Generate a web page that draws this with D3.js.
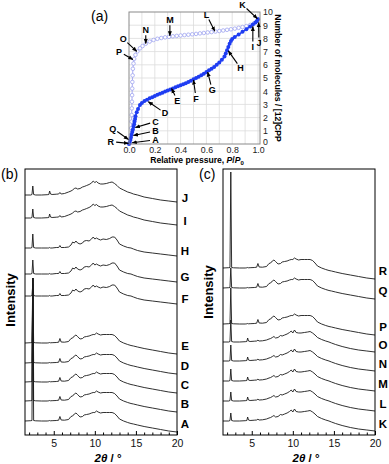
<!DOCTYPE html>
<html>
<head>
<meta charset="utf-8">
<script src="https://cdn.jsdelivr.net/npm/d3@7"></script>
<style>
body { margin: 0; background: #fff; }
text { font-family: "Liberation Sans", Arial, sans-serif; }
</style>
</head>
<body>
<div id="canvas"></div>
<script>
// ---- (a) isotherm data: relative pressure P/P0 vs molecules per [12]CPP
var adsP = [0, 0.005, 0.01, 0.015, 0.02, 0.025, 0.03, 0.035, 0.04, 0.043, 0.047, 0.05, 0.06, 0.07, 0.085, 0.1, 0.12, 0.14, 0.16, 0.18, 0.2, 0.22, 0.24, 0.26, 0.28, 0.3, 0.32, 0.34, 0.36, 0.38, 0.4, 0.42, 0.44, 0.46, 0.48, 0.5, 0.52, 0.54, 0.56, 0.58, 0.6, 0.62, 0.64, 0.66, 0.68, 0.7, 0.72, 0.74, 0.75, 0.76, 0.77, 0.78, 0.79, 0.8, 0.82, 0.85, 0.88, 0.91, 0.94, 0.96, 0.98, 0.99, 1.0];
var adsN = [0, 0.1, 0.3, 0.5, 0.7, 0.9, 1.1, 1.3, 1.5, 1.7, 1.9, 2.1, 2.4, 2.65, 2.95, 3.1, 3.25, 3.36, 3.46, 3.55, 3.64, 3.73, 3.81, 3.89, 3.97, 4.05, 4.13, 4.21, 4.29, 4.37, 4.45, 4.53, 4.61, 4.7, 4.8, 4.9, 5.0, 5.1, 5.2, 5.32, 5.45, 5.58, 5.7, 5.84, 6.0, 6.18, 6.38, 6.62, 6.85, 7.1, 7.35, 7.6, 7.8, 7.95, 8.1, 8.3, 8.5, 8.7, 8.9, 9.05, 9.2, 9.3, 9.45];
var desP = [1.0, 0.97, 0.94, 0.91, 0.88, 0.85, 0.82, 0.79, 0.76, 0.73, 0.7, 0.67, 0.64, 0.61, 0.58, 0.55, 0.52, 0.49, 0.46, 0.43, 0.4, 0.37, 0.34, 0.31, 0.28, 0.25, 0.22, 0.19, 0.16, 0.13, 0.105, 0.085, 0.065, 0.05, 0.04, 0.035, 0.03, 0.028, 0.026, 0.025, 0.024, 0.023, 0.022, 0.021, 0.02, 0.018, 0.015, 0.01, 0.005];
var desN = [9.45, 9.15, 9.02, 8.93, 8.86, 8.8, 8.74, 8.69, 8.65, 8.6, 8.56, 8.52, 8.48, 8.45, 8.41, 8.38, 8.34, 8.31, 8.28, 8.25, 8.22, 8.19, 8.16, 8.12, 8.08, 8.03, 7.97, 7.88, 7.76, 7.6, 7.42, 7.25, 7.02, 6.75, 6.45, 6.1, 5.7, 5.2, 4.7, 4.2, 3.7, 3.2, 2.7, 2.2, 1.7, 1.2, 0.7, 0.3, 0.05];

// point labels on the isotherm (label centre, arrow tip) in data units
var isoNames = ["A","B","C","D","E","F","G","H","I","J","K","L","M","N","O","P","Q","R"];
var isoLabelAt = [[0.205,0.32],[0.205,1.0],[0.205,1.7],[0.28,2.33],[0.375,3.3],[0.52,3.45],[0.645,4.1],[0.865,5.75],[0.96,7.35],[1.007,7.65],[0.88,10.55],[0.6,9.8],[0.317,9.42],[0.13,8.66],[-0.044,7.97],[-0.077,7.0],[-0.126,1.19],[-0.142,0.18]];
var isoArrowTip = [[0.025,0.1],[0.035,0.65],[0.05,1.25],[0.15,3.2],[0.33,4.2],[0.5,4.85],[0.61,5.45],[0.77,7.05],[0.96,8.9],[1.005,9.2],[0.995,9.5],[0.665,8.55],[0.317,8.2],[0.13,7.62],[0.06,7.02],[0.03,6.4],[-0.005,0.35],[-0.005,0.05]];

var pressureTicks = [0, 0.2, 0.4, 0.6, 0.8, 1.0];
var moleculeTicks = [0, 1, 2, 3, 4, 5, 6, 7, 8, 9, 10];

// ---- (b), (c) XRD patterns
var twoTheta = [1.5, 2.2, 2.35, 2.45, 2.55, 2.8, 3.5, 4.2, 4.4, 4.5, 4.6, 4.8, 5.3, 5.6, 5.75, 5.9, 6.3, 6.8, 7.1, 7.3, 7.5, 7.7, 7.9, 8.2, 8.5, 8.7, 9.0, 9.3, 9.6, 9.8, 10.0, 10.2, 10.4, 10.7, 11.0, 11.4, 11.8, 12.1, 12.4, 12.7, 13.0, 13.5, 14.0, 14.4, 14.7, 15.2, 16, 17, 18, 19, 20];
var peakAngle = 2.45;

var profileA = [0, 0.3, 0.5, 0, 0.5, 0.2, 0, 0, 0.2, 0.5,
  0.2, 0.3, 0.5, 0.8, 4.5, 1, 0.8, 1.5, 4.5, 5,
  7, 8, 6.5, 4, 4.5, 6, 6.5, 7, 8, 8.5,
  8.5, 10, 9, 8, 8.5, 8.5, 8.5, 8.5, 7.5, 5,
  2, 0, -1.5, -2.5, -3, -4, -5.5, -7, -8.5, -10, -11];
var profileH = [0, 0, 0.5, 0, 0.5, 0, 0, 0, 0, 0.5,
  0, 0, 0.5, 0.5, 2.5, 0.5, 0.5, 1, 3, 6,
  5, 7, 5, 4, 5, 7, 7.5, 7, 9, 11,
  9, 10, 9, 8, 9, 8.5, 9.5, 11, 11, 8,
  4, 2, 0.5, 0, -1, -2.5, -4, -5, -6, -7, -8];
var profileJ = [0, 0, 0.5, 0, 0.5, 0, 0, 0.3, 0.5, 4,
  1, 0.5, 0.8, 1, 2.5, 1, 1.5, 3, 4, 5,
  6.5, 7, 6, 6.5, 8, 8.5, 9.5, 10.5, 12, 14,
  12.5, 13.5, 12, 11, 11, 11.5, 12.5, 13, 11.5, 9.5,
  7, 5, 3, 2, 1, 0, -2, -3.5, -5, -6, -7];
var profileK = [0, 0, 0.5, 0, 0.5, 0, 0, 0.3, 0.5, 4,
  1, 0.5, 0.8, 1, 1.8, 1, 1.2, 2, 3, 3.5,
  4.5, 5.5, 4, 4.5, 6.5, 6, 7, 8, 9.5, 11,
  9, 12, 9.5, 9, 9, 9.5, 10, 10.5, 9, 7,
  4.5, 2.5, 1, 0, -1, -2.5, -4.5, -6.5, -8, -9, -10];
var profiles = { A: profileA, H: profileH, J: profileJ, K: profileK };

var bNames = ["A","B","C","D","E","F","G","H","I","J"];
var bOffsets = [14, 34, 53, 72, 92, 139, 161, 187, 217, 240];
var bPeaks = [143, 123, 104, 85, 65, 12, 14, 14, 9, 9];
var bProfile = ["A","A","A","A","A","H","H","H","J","J"];

var cNames = ["K","L","M","N","O","P","Q","R"];
var cOffsets = [14, 34, 54, 74, 93, 111, 147, 167];
var cPeaks = [8, 9, 12, 16, 22, 36, 20, 96];
var cProfile = ["K","K","K","K","K","A","A","A"];

var thetaMajor = [5, 10, 15, 20];
var thetaMinor = [2, 3, 4, 6, 7, 8, 9, 11, 12, 13, 14, 16, 17, 18, 19];

var svg = d3.select("#canvas").append("svg")
  .attr("width", 389).attr("height", 464);

svg.append("defs").append("marker")
  .attr("id", "arr").attr("viewBox", "0 0 10 10")
  .attr("refX", 9).attr("refY", 5)
  .attr("markerUnits", "userSpaceOnUse")
  .attr("markerWidth", 5).attr("markerHeight", 5)
  .attr("orient", "auto")
  .append("path").attr("d", "M0,1L10,5L0,9Z").attr("fill", "#000");

drawIsotherm();
drawXRD(25, 177, "(b)", bNames, bOffsets, bPeaks, bProfile, 300);
drawXRD(223, 375, "(c)", cNames, cOffsets, cPeaks, cProfile, 292);

function drawIsotherm() {
  var x = d3.scaleLinear().domain([0, 1]).range([129, 258]);
  var y = d3.scaleLinear().domain([0, 10]).range([144, 12]);
  var g = svg.append("g");

  // grid
  g.selectAll(".gx").data(x.ticks(10).filter(d => d > 0)).enter().append("line")
    .attr("x1", d => x(d)).attr("x2", d => x(d)).attr("y1", y(0)).attr("y2", y(10))
    .attr("stroke", "#dcdcdc").attr("stroke-width", 0.8);
  g.selectAll(".gy").data(moleculeTicks.filter(d => d > 0 && d < 10)).enter().append("line")
    .attr("x1", x(0)).attr("x2", 260).attr("y1", d => y(d)).attr("y2", d => y(d))
    .attr("stroke", "#dcdcdc").attr("stroke-width", 0.8);

  var line = d3.line().x(d => x(d[0])).y(d => y(d[1]));
  var ads = adsP.map((p, i) => [p, adsN[i]]);
  var des = desP.map((p, i) => [p, desN[i]]);

  // desorption (open circles)
  g.append("path").datum(des).attr("d", line)
    .attr("fill", "none").attr("stroke", "#a8acf2").attr("stroke-width", 1);
  g.selectAll(".des").data(des).enter().append("circle")
    .attr("cx", d => x(d[0])).attr("cy", d => y(d[1])).attr("r", 1.8)
    .attr("fill", "#fff").attr("stroke", "#a0a5f0").attr("stroke-width", 0.8);

  // adsorption (filled)
  g.append("path").datum(ads).attr("d", line)
    .attr("fill", "none").attr("stroke", "#1f3df2").attr("stroke-width", 1.6);
  g.selectAll(".ads").data(ads).enter().append("circle")
    .attr("cx", d => x(d[0])).attr("cy", d => y(d[1])).attr("r", 2)
    .attr("fill", "#1f3df2");

  // frame
  g.append("rect").attr("x", x(0)).attr("y", y(10))
    .attr("width", 260 - x(0)).attr("height", y(0) - y(10))
    .attr("fill", "none").attr("stroke", "#8a8a8a").attr("stroke-width", 1);

  // axes labels
  var xAxis = d3.axisBottom(x).tickValues(pressureTicks).tickFormat(d3.format(".1f"))
    .tickSize(0).tickPadding(3);
  var gx = g.append("g").attr("transform", "translate(0," + y(0) + ")").call(xAxis);
  gx.select(".domain").remove();
  gx.selectAll("text").style("font-size", "8.8px").style("font-family", "Liberation Sans, Arial").attr("fill", "#222");

  var yAxis = d3.axisRight(y).tickValues(moleculeTicks).tickSize(0).tickPadding(3);
  var gy = g.append("g").attr("transform", "translate(260,0)").call(yAxis);
  gy.select(".domain").remove();
  gy.selectAll("text").style("font-size", "8.8px").style("font-family", "Liberation Sans, Arial").attr("fill", "#222")
    .attr("y", d => d === 0 ? -2 : 0);

  var xt = g.append("text").attr("x", 197).attr("y", 163).attr("text-anchor", "middle")
    .style("font-size", "8.6px").style("font-weight", "bold");
  xt.append("tspan").text("Relative pressure, ");
  xt.append("tspan").style("font-style", "italic").text("P");
  xt.append("tspan").text("/");
  xt.append("tspan").style("font-style", "italic").text("P");
  xt.append("tspan").attr("dy", 2).style("font-size", "6px").text("0");

  g.append("text").attr("transform", "translate(275,78) rotate(90)")
    .attr("text-anchor", "middle").style("font-size", "8.6px").style("font-weight", "bold")
    .text("Number of molecules / [12]CPP");

  g.append("text").attr("x", 91).attr("y", 21).style("font-size", "14px").text("(a)");

  // letter labels with arrows
  isoNames.forEach(function(name, i) {
    var lx = x(isoLabelAt[i][0]), ly = y(isoLabelAt[i][1]);
    var tx = x(isoArrowTip[i][0]), ty = y(isoArrowTip[i][1]);
    var dx = tx - lx, dy = ty - ly, len = Math.sqrt(dx * dx + dy * dy);
    g.append("line")
      .attr("x1", lx + dx / len * 5.5).attr("y1", ly + dy / len * 5.5)
      .attr("x2", tx).attr("y2", ty)
      .attr("stroke", "#000").attr("stroke-width", 1.1)
      .attr("marker-end", "url(#arr)");
    g.append("text").attr("x", lx).attr("y", ly).attr("dy", "0.36em")
      .attr("text-anchor", "middle").style("font-size", "9px").style("font-weight", "bold")
      .text(name);
  });
}

function drawXRD(left, right, tag, names, offsets, peaks, profKeys, ylabY) {
  var x = d3.scaleLinear().domain([1.5, 20]).range([left, right]);
  var y = d3.scaleLinear().domain([0, 266]).range([435, 169]);
  var g = svg.append("g");
  var line = d3.line().x(d => x(d[0])).y(d => y(d[1]));

  names.forEach(function(name, i) {
    var prof = profiles[profKeys[i]];
    var pts = twoTheta.map((t, j) => [t, offsets[i] + prof[j] + (t === peakAngle ? peaks[i] : 0)]);
    g.append("path").datum(pts).attr("d", line)
      .attr("fill", "none").attr("stroke", "#1a1a1a").attr("stroke-width", 0.9);
    g.append("text").attr("x", right + 8).attr("y", y(offsets[i]) + 3).attr("dy", "0.36em")
      .attr("text-anchor", "middle").style("font-size", "11.5px").style("font-weight", "bold")
      .text(name);
  });

  g.append("rect").attr("x", left).attr("y", 169).attr("width", right - left).attr("height", 266)
    .attr("fill", "none").attr("stroke", "#000").attr("stroke-width", 1);

  var minor = d3.axisBottom(x).tickValues(thetaMinor).tickSize(-2.5).tickFormat("");
  var gm = g.append("g").attr("transform", "translate(0,435)").call(minor);
  gm.select(".domain").remove();

  var major = d3.axisBottom(x).tickValues(thetaMajor).tickSize(-4).tickPadding(5);
  var ga = g.append("g").attr("transform", "translate(0,435)").call(major);
  ga.select(".domain").remove();
  ga.selectAll("text").style("font-size", "10.5px").style("font-family", "Liberation Sans, Arial").attr("fill", "#111");

  var xl = g.append("text").attr("x", (left + right) / 2 + 7).attr("y", 462)
    .attr("text-anchor", "middle").style("font-size", "11.5px").style("font-weight", "bold");
  xl.append("tspan").style("font-style", "italic").text("2θ");
  xl.append("tspan").text(" / °");

  g.append("text").attr("transform", "translate(" + (left - 10) + "," + ylabY + ") rotate(-90)")
    .attr("text-anchor", "middle").style("font-size", "13px").style("font-weight", "bold")
    .text("Intensity");

  g.append("text").attr("x", left - 24).attr("y", 179).style("font-size", "14px").text(tag);
}
</script>
</body>
</html>
